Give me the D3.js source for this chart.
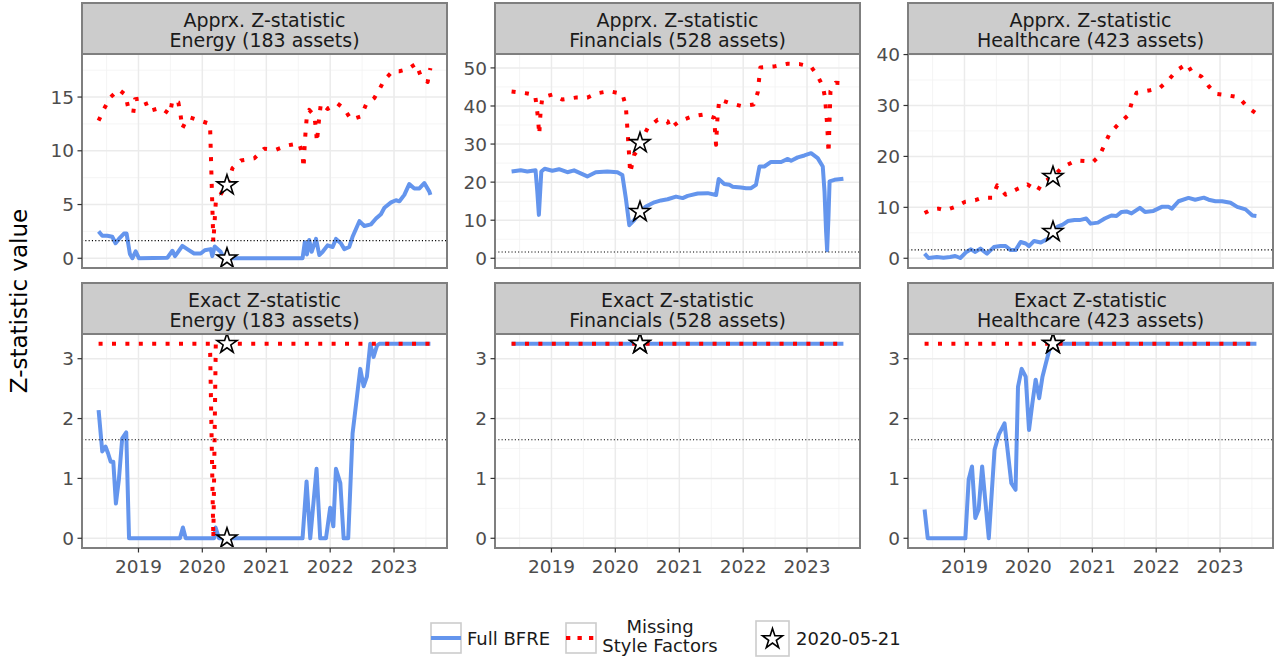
<!DOCTYPE html>
<html>
<head>
<meta charset="utf-8">
<script src="https://cdn.jsdelivr.net/npm/d3@7"></script>
<style>
  body { margin: 0; background: #fff; }
  svg { display: block; font-family: "DejaVu Sans", sans-serif; }
</style>
</head>
<body>
<svg id="chart" width="1276" height="658"></svg>
<script>
// ---- data -------------------------------------------------------------
const startDate = "2018-05-18";
const endDate = "2023-07-28";
const markerDate = "2020-05-21";
const threshold = 1.645;
const yearTicks = ["2019", "2020", "2021", "2022", "2023"];
const seriesNames = ["Full BFRE", "Missing\nStyle Factors"];
const sectors = ["Energy (183 assets)", "Financials (528 assets)", "Healthcare (423 assets)"];
const statistics = ["Apprx. Z-statistic", "Exact Z-statistic"];

const energyApprxFull = [
  ["2018-05-18",2.5],["2018-06-08",2.1],["2018-07-07",2.1],["2018-08-04",2.0],["2018-08-23",1.4],
  ["2018-09-11",1.8],["2018-10-10",2.3],["2018-10-25",2.3],["2018-11-13",0.4],["2018-11-27",0.0],
  ["2018-12-16",0.65],["2019-01-04",0.0],["2019-06-15",0.05],["2019-07-14",0.7],["2019-07-29",0.2],
  ["2019-09-09",1.15],["2019-10-07",0.85],["2019-11-15",0.45],["2019-12-23",0.45],["2020-01-15",0.75],
  ["2020-02-18",0.85],["2020-02-27",0.2],["2020-03-12",1.1],["2020-04-15",0.6],["2020-05-04",0.0],
  ["2021-07-27",0.0],["2021-08-09",1.5],["2021-08-21",0.35],["2021-09-03",1.7],["2021-09-17",0.6],
  ["2021-10-12",1.8],["2021-10-31",0.3],["2021-11-19",0.6],["2021-12-17",1.2],["2022-01-15",1.05],
  ["2022-02-03",1.8],["2022-03-03",1.4],["2022-03-23",0.85],["2022-04-20",1.05],["2022-05-09",2.0],
  ["2022-06-17",3.45],["2022-07-15",3.0],["2022-08-22",3.15],["2022-09-20",3.7],["2022-10-18",4.1],
  ["2022-11-07",4.7],["2022-12-15",5.2],["2023-01-12",5.4],["2023-02-01",5.3],["2023-03-01",5.9],
  ["2023-03-29",6.9],["2023-04-27",6.5],["2023-05-26",6.5],["2023-06-23",7.0],["2023-07-22",6.2],
  ["2023-07-28",5.9]
];
const energyApprxMissing = [
  ["2018-05-18",12.8],["2018-06-18",13.9],["2018-07-26",15.0],["2018-09-11",15.7],["2018-10-19",15.2],
  ["2018-11-02",14.1],["2018-12-02",13.5],["2018-12-12",14.8],["2019-02-01",14.9],["2019-03-02",13.7],
  ["2019-05-08",14.0],["2019-06-30",13.4],["2019-07-14",14.7],["2019-08-17",14.5],["2019-08-30",13.3],
  ["2019-09-09",12.1],["2019-09-28",12.7],["2019-10-23",13.1],["2019-12-19",12.8],["2020-02-14",12.5],
  ["2020-03-04",1.5],["2020-03-18",5.2],["2020-04-24",6.2],["2020-05-21",6.8],["2020-06-22",8.4],
  ["2020-08-08",9.1],["2020-10-24",9.3],["2020-12-20",10.2],["2021-02-25",10.1],["2021-05-02",10.5],
  ["2021-07-08",10.7],["2021-07-27",9.6],["2021-08-02",8.4],["2021-08-09",10.8],["2021-08-15",12.1],
  ["2021-08-21",13.3],["2021-09-03",13.8],["2021-10-02",13.3],["2021-10-12",12.0],["2021-10-17",10.8],
  ["2021-10-31",13.2],["2021-11-09",14.4],["2021-12-17",13.9],["2022-02-12",14.4],["2022-03-23",13.9],
  ["2022-04-30",12.9],["2022-06-26",13.2],["2022-07-25",14.3],["2022-09-10",14.9],["2022-10-09",15.7],
  ["2022-11-07",16.6],["2022-12-24",17.4],["2023-02-01",17.4],["2023-03-20",17.6],["2023-05-07",18.1],
  ["2023-06-04",16.9],["2023-07-12",16.4],["2023-07-28",17.7]
];
const financialsApprxFull = [
  ["2018-05-18",22.8],["2018-07-09",23.1],["2018-08-16",22.8],["2018-10-02",23.1],["2018-10-12",17.5],
  ["2018-10-21",11.4],["2018-11-04",22.8],["2018-11-23",23.5],["2019-01-06",23.0],["2019-02-13",23.4],
  ["2019-04-02",22.6],["2019-05-10",23.1],["2019-07-25",21.5],["2019-09-11",22.6],["2019-11-16",22.8],
  ["2020-01-13",22.6],["2020-02-10",21.9],["2020-03-01",15.8],["2020-03-21",8.7],["2020-04-18",10.0],
  ["2020-05-21",12.2],["2020-06-24",13.6],["2020-08-11",14.7],["2020-09-18",15.2],["2020-10-26",15.5],
  ["2020-12-13",16.2],["2021-01-20",15.8],["2021-02-18",16.4],["2021-04-16",17.0],["2021-06-12",17.1],
  ["2021-07-30",16.6],["2021-08-14",20.8],["2021-09-15",19.5],["2021-10-14",19.3],["2021-11-02",18.8],
  ["2021-12-20",18.6],["2022-01-17",18.4],["2022-02-15",18.4],["2022-03-15",19.3],["2022-04-04",24.1],
  ["2022-05-02",24.1],["2022-06-09",25.3],["2022-08-06",25.3],["2022-09-13",26.1],["2022-10-02",25.6],
  ["2022-11-09",26.5],["2022-12-17",27.0],["2023-01-24",27.6],["2023-03-03",26.3],["2023-04-01",24.1],
  ["2023-04-11",17.5],["2023-04-20",7.0],["2023-04-26",2.1],["2023-05-04",11.4],["2023-05-10",20.2],
  ["2023-06-07",20.6],["2023-07-28",20.9]
];
const financialsApprxMissing = [
  ["2018-05-18",43.8],["2018-08-16",43.3],["2018-09-29",42.9],["2018-10-08",40.0],["2018-10-16",36.7],
  ["2018-10-23",32.5],["2018-10-31",38.6],["2018-11-10",42.3],["2019-01-06",43.0],["2019-03-04",41.7],
  ["2019-05-19",42.2],["2019-07-25",42.2],["2019-09-15",43.3],["2019-11-26",43.9],["2020-02-10",43.2],
  ["2020-03-01",40.0],["2020-03-11",33.4],["2020-03-21",26.3],["2020-03-26",22.4],["2020-04-18",27.2],
  ["2020-05-04",28.1],["2020-05-21",30.3],["2020-07-04",34.2],["2020-08-30",36.4],["2020-10-26",36.0],
  ["2020-11-10",34.1],["2021-01-01",36.0],["2021-03-18",37.3],["2021-05-24",37.8],["2021-07-20",36.9],
  ["2021-07-24",33.4],["2021-07-30",29.8],["2021-08-08",37.8],["2021-08-18",41.7],["2021-10-14",40.8],
  ["2021-12-20",40.0],["2022-03-02",40.4],["2022-03-25",43.5],["2022-04-09",50.1],["2022-06-29",50.4],
  ["2022-09-13",51.1],["2022-11-19",51.0],["2023-01-24",50.3],["2023-03-03",47.9],["2023-04-01",45.2],
  ["2023-04-14",42.2],["2023-04-20",38.6],["2023-04-26",35.1],["2023-04-30",31.6],["2023-05-04",27.6],
  ["2023-05-15",43.9],["2023-06-13",46.1],["2023-07-28",46.0]
];
const healthcareApprxFull = [
  ["2018-05-18",0.9],["2018-06-09",0.05],["2018-07-27",0.25],["2018-09-03",0.1],["2018-10-11",0.25],
  ["2018-11-09",0.45],["2018-12-08",0.05],["2019-01-12",1.25],["2019-02-07",1.75],["2019-03-04",1.25],
  ["2019-04-02",1.9],["2019-05-10",0.9],["2019-06-18",2.2],["2019-07-26",2.4],["2019-08-24",2.4],
  ["2019-09-22",1.6],["2019-10-20",1.6],["2019-11-18",3.2],["2019-12-17",2.9],["2020-01-05",2.4],
  ["2020-02-03",3.4],["2020-03-12",3.1],["2020-04-30",4.0],["2020-05-21",5.2],["2020-06-17",6.2],
  ["2020-07-16",6.6],["2020-08-14",7.3],["2020-09-21",7.5],["2020-10-20",7.5],["2020-11-27",7.8],
  ["2020-12-22",6.8],["2021-02-02",7.0],["2021-03-13",7.8],["2021-04-20",8.4],["2021-05-19",8.3],
  ["2021-06-17",9.1],["2021-07-15",9.2],["2021-08-13",8.8],["2021-09-30",9.9],["2021-10-29",9.1],
  ["2021-12-16",9.3],["2022-02-02",10.1],["2022-03-12",10.1],["2022-04-01",9.75],["2022-05-09",11.2],
  ["2022-07-05",11.85],["2022-08-12",11.5],["2022-09-30",11.9],["2022-10-28",11.5],["2022-12-06",11.2],
  ["2023-01-13",11.2],["2023-03-02",10.9],["2023-04-09",10.1],["2023-05-27",9.6],["2023-07-05",8.4],
  ["2023-07-28",8.3]
];
const healthcareApprxMissing = [
  ["2018-05-18",8.9],["2018-06-28",9.6],["2018-08-05",9.75],["2018-09-13",9.4],["2018-11-09",10.1],
  ["2019-01-06",11.1],["2019-03-04",11.4],["2019-04-12",11.9],["2019-06-08",11.9],["2019-07-07",14.3],
  ["2019-08-24",12.5],["2019-10-30",13.6],["2019-12-27",14.5],["2020-02-22",13.2],["2020-03-22",14.9],
  ["2020-05-21",16.0],["2020-07-06",17.6],["2020-08-14",18.4],["2020-10-01",19.2],["2020-11-18",19.1],
  ["2021-01-05",18.9],["2021-02-12",20.2],["2021-03-13",22.4],["2021-04-10",24.5],["2021-05-29",26.3],
  ["2021-07-25",28.1],["2021-08-13",30.4],["2021-09-11",32.5],["2021-11-27",33.0],["2022-01-23",33.5],
  ["2022-03-12",35.0],["2022-04-29",36.9],["2022-06-26",38.2],["2022-07-25",36.5],["2022-09-16",35.7],
  ["2022-10-28",33.8],["2022-12-06",32.3],["2023-02-11",32.0],["2023-04-19",31.6],["2023-06-06",29.7],
  ["2023-07-28",28.4]
];
const energyExactFull = [
  ["2018-05-18",2.14],["2018-06-08",1.45],["2018-06-27",1.53],["2018-07-11",1.42],["2018-07-26",1.28],
  ["2018-08-10",1.28],["2018-08-25",0.58],["2018-09-11",0.98],["2018-09-30",1.67],["2018-10-23",1.77],
  ["2018-11-08",0.0],["2019-08-26",0.0],["2019-09-12",0.18],["2019-09-28",0.0],["2020-03-08",0.0],
  ["2020-03-17",0.18],["2020-04-05",0.0],["2021-07-27",0.0],["2021-08-19",0.95],["2021-09-09",0.0],
  ["2021-10-15",1.16],["2021-11-05",0.0],["2021-12-08",0.0],["2022-01-01",0.51],["2022-01-19",0.2],
  ["2022-02-03",1.16],["2022-02-28",0.92],["2022-03-19",0.0],["2022-04-14",0.0],["2022-05-09",1.75],
  ["2022-06-22",2.83],["2022-07-11",2.54],["2022-07-30",2.7],["2022-08-18",3.25],["2022-09-06",3.03],
  ["2022-09-26",3.22],["2022-10-09",3.25],["2023-07-28",3.25]
];
const energyExactMissing = [
  ["2018-05-18",3.25],["2020-02-14",3.25],["2020-03-04",0.0],["2020-03-18",3.25],["2023-07-28",3.25]
];
const financialsExactFull = [["2018-05-18",3.25],["2023-07-28",3.25]];
const financialsExactMissing = [["2018-05-18",3.25],["2023-07-28",3.25]];
const healthcareExactFull = [
  ["2018-05-18",0.48],["2018-06-05",0.0],["2019-01-06",0.0],["2019-01-25",0.98],["2019-02-13",1.2],
  ["2019-03-04",0.34],["2019-03-23",0.48],["2019-04-12",1.2],["2019-05-20",0.0],["2019-06-22",1.48],
  ["2019-07-16",1.73],["2019-08-18",1.92],["2019-09-26",0.92],["2019-10-20",0.81],["2019-11-03",2.53],
  ["2019-11-24",2.83],["2019-12-17",2.7],["2020-01-05",1.81],["2020-01-24",2.25],["2020-02-12",2.65],
  ["2020-03-03",2.34],["2020-03-22",2.7],["2020-04-10",2.92],["2020-04-30",3.14],["2020-05-14",3.25],
  ["2023-07-28",3.25]
];
const healthcareExactMissing = [["2018-05-18",3.25],["2023-07-28",3.25]];

// ---- panels ----------------------------------------------------------
const panels = [
  { row: 0, col: 0, title: [statistics[0], sectors[0]], full: energyApprxFull,     missing: energyApprxMissing },
  { row: 0, col: 1, title: [statistics[0], sectors[1]], full: financialsApprxFull, missing: financialsApprxMissing },
  { row: 0, col: 2, title: [statistics[0], sectors[2]], full: healthcareApprxFull, missing: healthcareApprxMissing },
  { row: 1, col: 0, title: [statistics[1], sectors[0]], full: energyExactFull,     missing: energyExactMissing },
  { row: 1, col: 1, title: [statistics[1], sectors[1]], full: financialsExactFull, missing: financialsExactMissing },
  { row: 1, col: 2, title: [statistics[1], sectors[2]], full: healthcareExactFull, missing: healthcareExactMissing }
];

const colFull = "#6495ED";
const colMissing = "#FF0000";
const lineW = 4;
const dotPattern = "4,9.4";

const parse = d3.timeParse("%Y-%m-%d");
const svg = d3.select("#chart");

const lefts = [82, 495, 908];
const panelW = 365;
const rowTops = [3, 283];
const stripH = 51;
const plotH = 214;

const d0 = parse(startDate), d1 = parse(endDate);
const spanMs = d1 - d0;
const xDomain = [new Date(+d0 - 0.05 * spanMs), new Date(+d1 + 0.05 * spanMs)];
const yearDates = yearTicks.map(y => new Date(+y, 0, 1));
const xMinor = [];
for (let yr = 2018; yr <= 2023; yr++) {
  const a = new Date(yr, 0, 1), b = new Date(yr + 1, 0, 1);
  const m = new Date((+a + +b) / 2);
  if (m >= xDomain[0] && m <= xDomain[1]) xMinor.push(m);
}

function valueAt(series, date) {
  const t = +date;
  for (let i = 0; i < series.length - 1; i++) {
    const ta = +parse(series[i][0]), tb = +parse(series[i + 1][0]);
    if (t >= ta && t <= tb) {
      const f = tb === ta ? 0 : (t - ta) / (tb - ta);
      return series[i][1] + f * (series[i + 1][1] - series[i][1]);
    }
  }
  return series[series.length - 1][1];
}

const star = d3.symbol().type(d3.symbolStar).size(125);
const mDate = parse(markerDate);

panels.forEach((p, i) => {
  const left = lefts[p.col];
  const stripTop = rowTops[p.row];
  const top = stripTop + stripH;
  const bottom = top + plotH;

  const x = d3.scaleTime().domain(xDomain).range([left, left + panelW]);
  const vals = p.full.concat(p.missing).map(d => d[1]).concat([0, threshold]);
  const [lo, hi] = d3.extent(vals);
  const pad = (hi - lo) * 0.05;
  const y = d3.scaleLinear().domain([lo - pad, hi + pad]).range([bottom, top]);

  const g = svg.append("g");
  g.append("rect").attr("x", left).attr("y", top).attr("width", panelW).attr("height", plotH).attr("fill", "#fff");

  const yt = y.ticks(4);
  const step = yt[1] - yt[0];
  const yMinor = [yt[0] - step / 2].concat(yt.map(t => t + step / 2))
    .filter(v => v > y.domain()[0] && v < y.domain()[1]);

  // grid
  g.selectAll(".ymin").data(yMinor).enter().append("line")
    .attr("x1", left).attr("x2", left + panelW).attr("y1", d => y(d)).attr("y2", d => y(d))
    .attr("stroke", "#F2F2F2").attr("stroke-width", 0.8);
  g.selectAll(".xmin").data(xMinor).enter().append("line")
    .attr("y1", top).attr("y2", bottom).attr("x1", d => x(d)).attr("x2", d => x(d))
    .attr("stroke", "#F2F2F2").attr("stroke-width", 0.8);
  g.selectAll(".ymaj").data(yt).enter().append("line")
    .attr("x1", left).attr("x2", left + panelW).attr("y1", d => y(d)).attr("y2", d => y(d))
    .attr("stroke", "#EBEBEB").attr("stroke-width", 1.5);
  g.selectAll(".xmaj").data(yearDates).enter().append("line")
    .attr("y1", top).attr("y2", bottom).attr("x1", d => x(d)).attr("x2", d => x(d))
    .attr("stroke", "#EBEBEB").attr("stroke-width", 1.5);

  // series
  const clipId = "clip" + i;
  svg.append("clipPath").attr("id", clipId).append("rect")
    .attr("x", left).attr("y", top).attr("width", panelW).attr("height", plotH);
  const inner = g.append("g").attr("clip-path", `url(#${clipId})`);
  const line = d3.line().x(d => x(parse(d[0]))).y(d => y(d[1]));
  inner.append("path").datum(p.full).attr("d", line)
    .attr("fill", "none").attr("stroke", colFull).attr("stroke-width", lineW)
    .attr("stroke-linejoin", "round");
  inner.append("path").datum(p.missing).attr("d", line)
    .attr("fill", "none").attr("stroke", colMissing).attr("stroke-width", lineW)
    .attr("stroke-dasharray", dotPattern).attr("stroke-linejoin", "round");
  inner.append("line").attr("x1", left).attr("x2", left + panelW)
    .attr("y1", y(threshold)).attr("y2", y(threshold))
    .attr("stroke", "#000").attr("stroke-width", 1.1).attr("stroke-dasharray", "1.1,2.2");

  // markers at the event date
  [p.full, p.missing].forEach(s => {
    g.append("path").attr("d", star)
      .attr("transform", `translate(${x(mDate)},${y(valueAt(s, mDate))})`)
      .attr("fill", "#fff").attr("stroke", "#000").attr("stroke-width", 1.6);
  });

  // panel border
  g.append("rect").attr("x", left).attr("y", top).attr("width", panelW).attr("height", plotH)
    .attr("fill", "none").attr("stroke", "#7F7F7F").attr("stroke-width", 2);

  // strip with a two-line title
  g.append("rect").attr("x", left).attr("y", stripTop).attr("width", panelW).attr("height", stripH)
    .attr("fill", "#CCCCCC").attr("stroke", "#7F7F7F").attr("stroke-width", 2);
  const st = g.append("text").attr("text-anchor", "middle").attr("font-size", 19).attr("fill", "#1A1A1A");
  p.title.forEach((t, k) => {
    st.append("tspan").attr("x", left + panelW / 2).attr("y", stripTop + 23.5 + k * 20).text(t);
  });

  // y axis
  yt.forEach(v => {
    g.append("line").attr("x1", left - 4.5).attr("x2", left).attr("y1", y(v)).attr("y2", y(v))
      .attr("stroke", "#333").attr("stroke-width", 1.2);
    g.append("text").attr("x", left - 8).attr("y", y(v)).attr("dy", "0.36em")
      .attr("text-anchor", "end").attr("font-size", 18.5).attr("fill", "#4D4D4D").text(v);
  });

  // x axis (bottom row)
  if (p.row === 1) {
    yearDates.forEach((d, k) => {
      g.append("line").attr("x1", x(d)).attr("x2", x(d)).attr("y1", bottom).attr("y2", bottom + 4.5)
        .attr("stroke", "#333").attr("stroke-width", 1.2);
      g.append("text").attr("x", x(d)).attr("y", bottom + 25).attr("text-anchor", "middle")
        .attr("font-size", 18.5).attr("fill", "#4D4D4D").text(yearTicks[k]);
    });
  }
});

// y axis title
svg.append("text").attr("transform", "translate(27,301) rotate(-90)")
  .attr("text-anchor", "middle").attr("font-size", 23).attr("fill", "#000").text("Z-statistic value");

// ---- legend ----------------------------------------------------------
const lg = svg.append("g");
const keyStroke = "#CCCCCC";
// Full BFRE
lg.append("rect").attr("x", 431).attr("y", 623).attr("width", 30).attr("height", 30)
  .attr("fill", "#fff").attr("stroke", keyStroke).attr("stroke-width", 1.6);
lg.append("line").attr("x1", 431).attr("x2", 461).attr("y1", 638).attr("y2", 638)
  .attr("stroke", colFull).attr("stroke-width", lineW);
lg.append("text").attr("x", 467).attr("y", 644.5).attr("font-size", 18).attr("fill", "#1A1A1A").text(seriesNames[0]);
// Missing style factors
lg.append("rect").attr("x", 566).attr("y", 623).attr("width", 30).attr("height", 30)
  .attr("fill", "#fff").attr("stroke", keyStroke).attr("stroke-width", 1.6);
lg.append("line").attr("x1", 566).attr("x2", 596).attr("y1", 638).attr("y2", 638)
  .attr("stroke", colMissing).attr("stroke-width", lineW).attr("stroke-dasharray", "4.3,7.2");
const lt = lg.append("text").attr("text-anchor", "middle").attr("font-size", 18).attr("fill", "#1A1A1A");
seriesNames[1].split("\n").forEach((t, k) => {
  lt.append("tspan").attr("x", 660).attr("y", 632.5 + k * 19).text(t);
});
// Marker
lg.append("rect").attr("x", 756).attr("y", 621).attr("width", 33).attr("height", 35)
  .attr("fill", "#fff").attr("stroke", keyStroke).attr("stroke-width", 1.6);
lg.append("path").attr("d", star).attr("transform", "translate(772.5,639)")
  .attr("fill", "#fff").attr("stroke", "#000").attr("stroke-width", 1.6);
lg.append("text").attr("x", 796).attr("y", 644.5).attr("font-size", 18).attr("fill", "#1A1A1A").text(markerDate);
</script>
</body>
</html>
